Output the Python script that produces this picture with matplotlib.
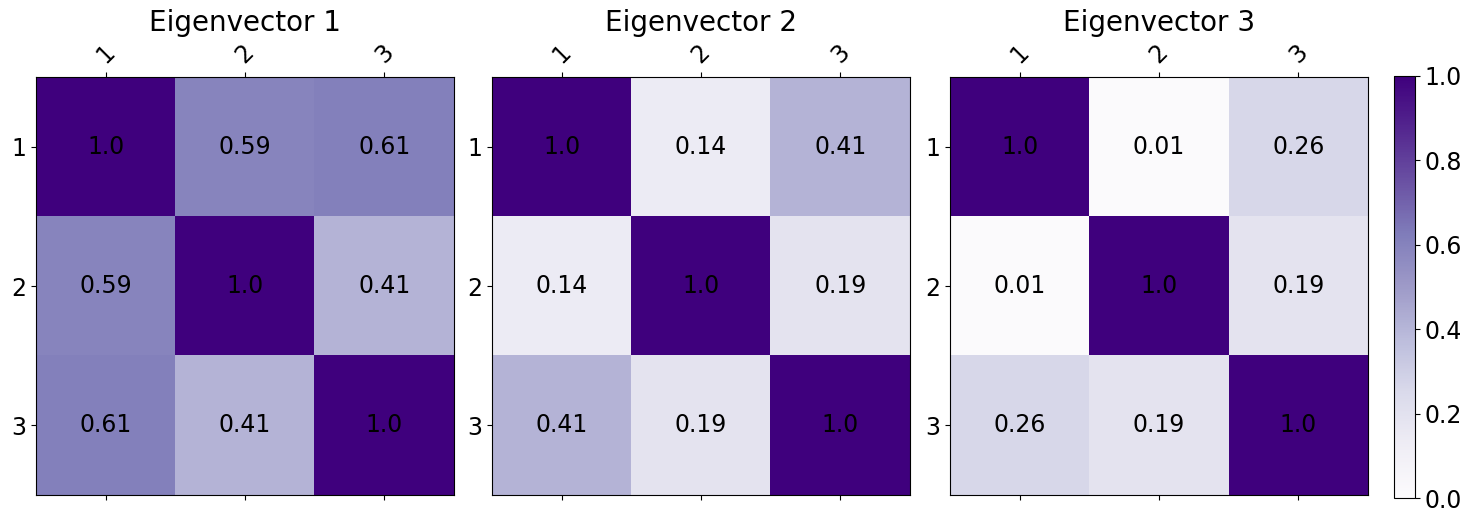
import numpy as np
import matplotlib
matplotlib.use("Agg")
import matplotlib.pyplot as plt

# pairwise similarity per eigenvector
labels = ["1", "2", "3"]
titles = ["Eigenvector 1", "Eigenvector 2", "Eigenvector 3"]
eig1 = [[1.0, 0.59, 0.61],
        [0.59, 1.0, 0.41],
        [0.61, 0.41, 1.0]]
eig2 = [[1.0, 0.14, 0.41],
        [0.14, 1.0, 0.19],
        [0.41, 0.19, 1.0]]
eig3 = [[1.0, 0.01, 0.26],
        [0.01, 1.0, 0.19],
        [0.26, 0.19, 1.0]]
matrices = [eig1, eig2, eig3]

W, H = 1472, 522
fig = plt.figure(figsize=(W / 100, H / 100), dpi=100)

lefts = [36, 492, 950]
size = 418
top = 77

im = None
for left, mat, title in zip(lefts, matrices, titles):
    ax = fig.add_axes([left / W, (H - top - size) / H, size / W, size / H])
    data = np.array(mat)
    im = ax.matshow(data, cmap="Purples", vmin=0, vmax=1)
    ax.set_xticks(range(len(labels)))
    ax.set_yticks(range(len(labels)))
    ax.set_xticklabels(labels, rotation=45, fontsize=17)
    ax.set_yticklabels(labels, fontsize=17)
    for i in range(data.shape[0]):
        for j in range(data.shape[1]):
            ax.text(j, i, str(round(data[i, j], 2)), ha="center", va="center",
                    fontsize=17, color="black")
    ax.set_title(title, fontsize=20)

cax = fig.add_axes([1394 / W, (H - 498) / H, 21 / W, 422 / H])
cbar = fig.colorbar(im, cax=cax)
cbar.ax.tick_params(labelsize=17)

fig.savefig("out.png", dpi=100)
